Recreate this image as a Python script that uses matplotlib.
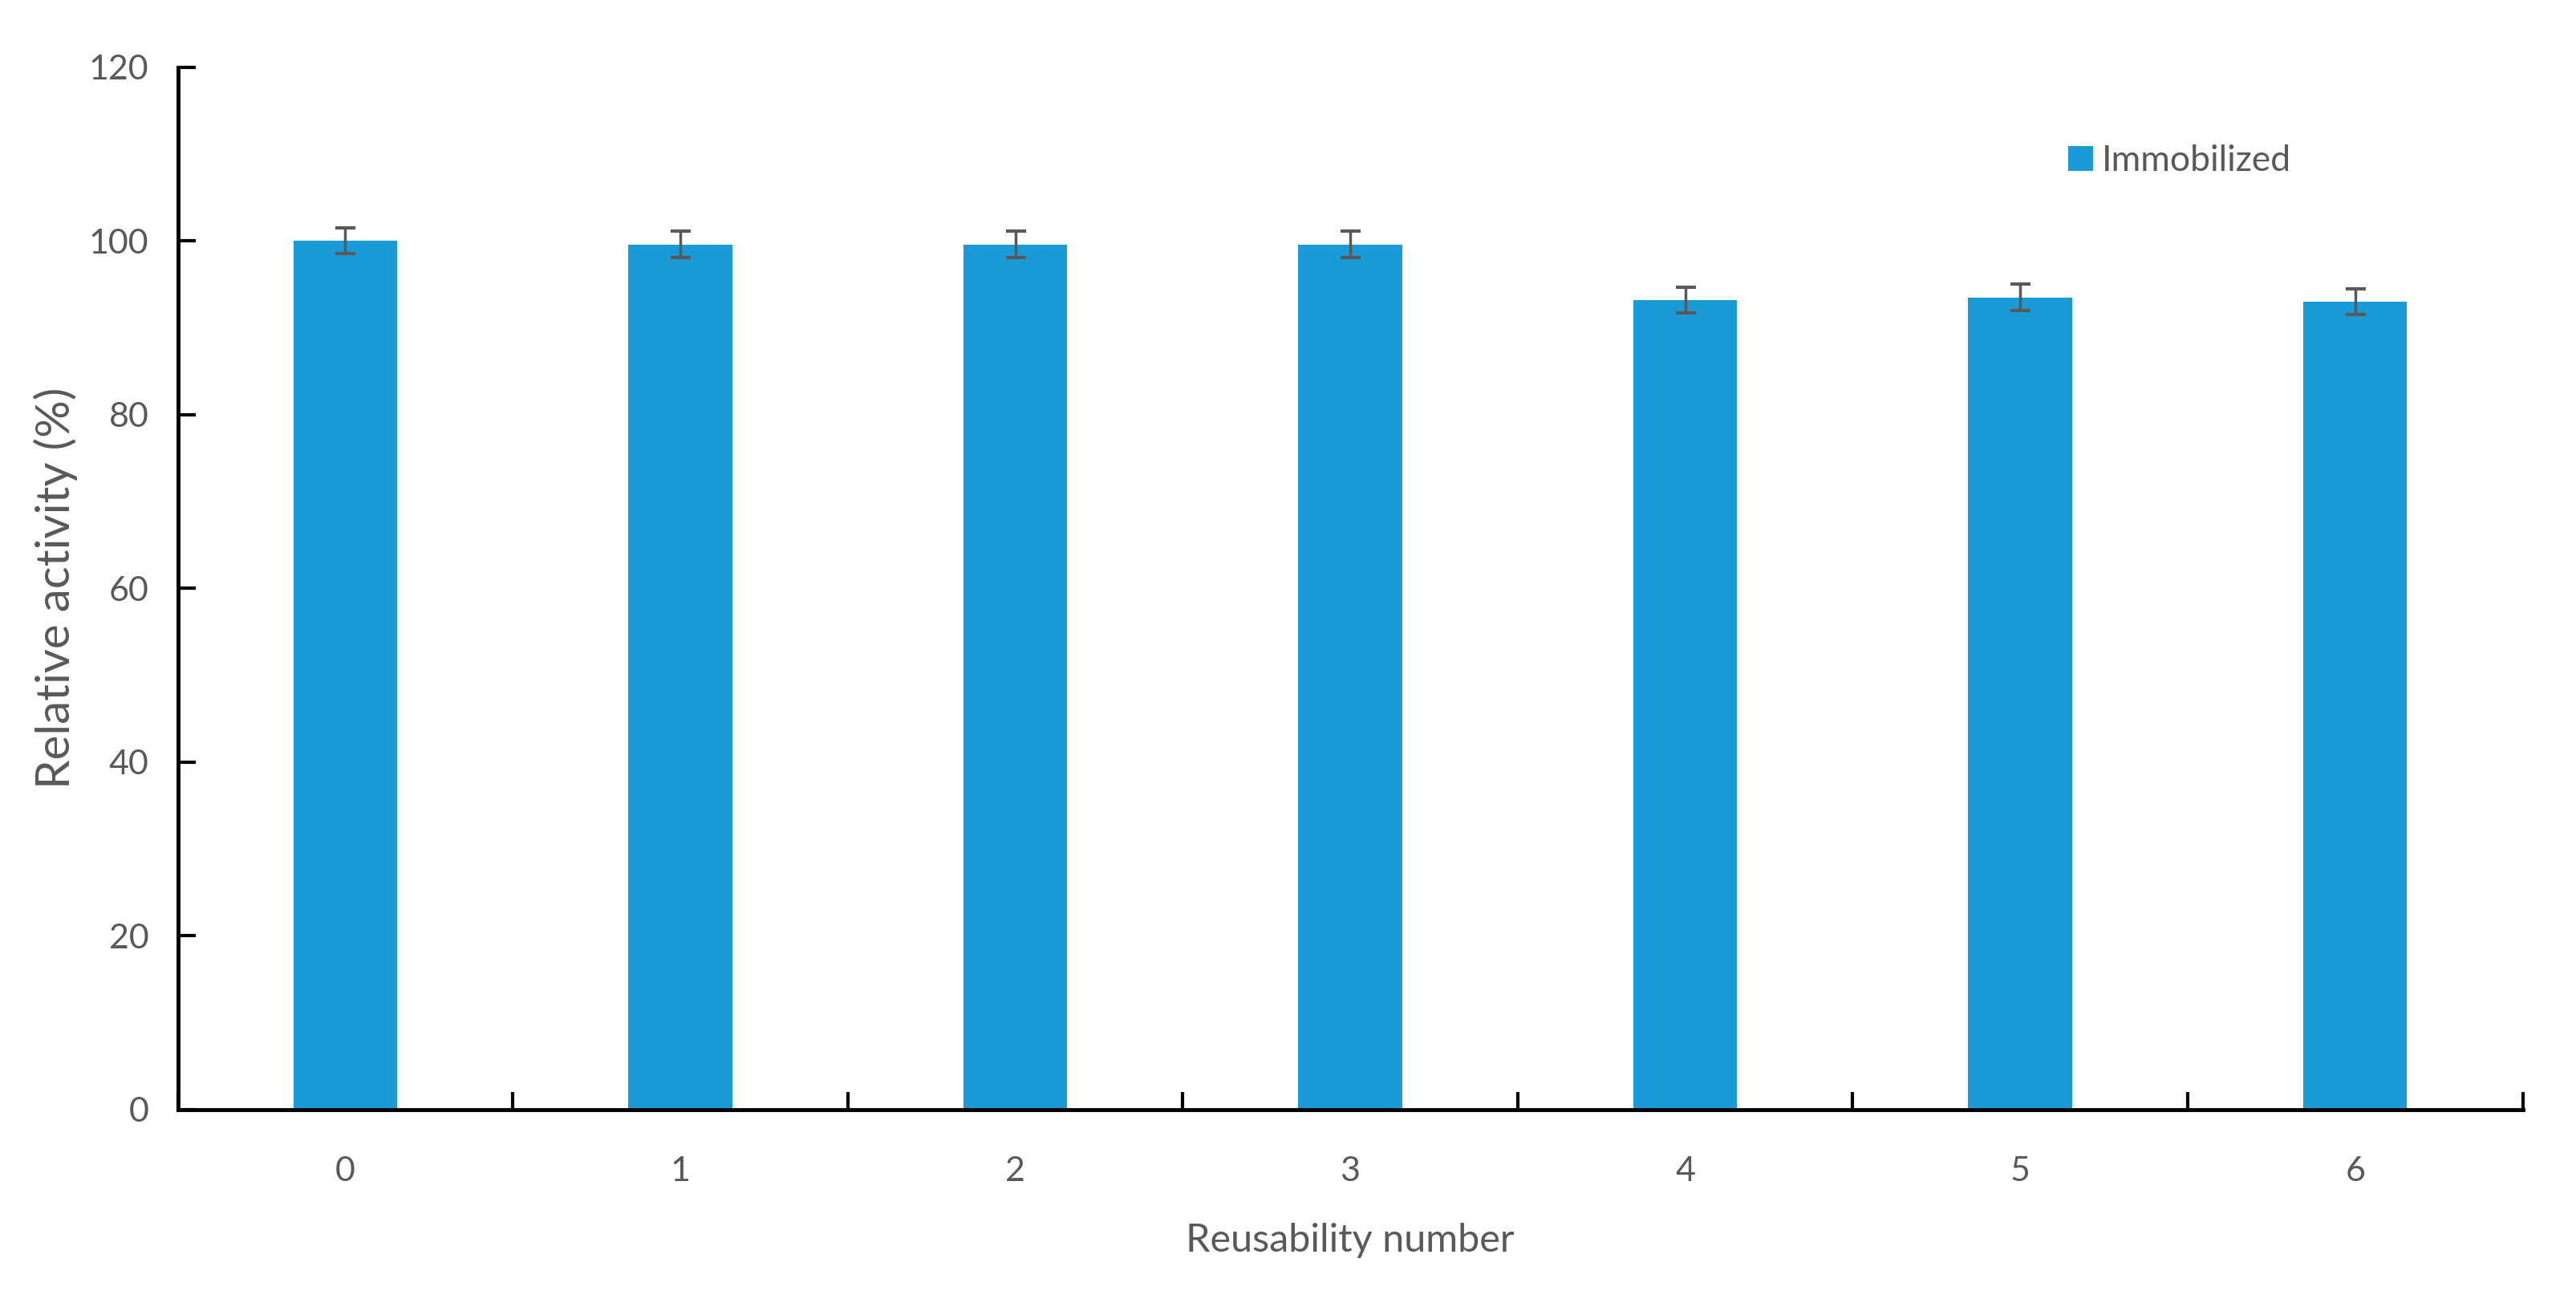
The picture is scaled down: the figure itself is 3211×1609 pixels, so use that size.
import matplotlib
matplotlib.use("Agg")
import matplotlib.pyplot as plt
import numpy as np

categories = ["0", "1", "2", "3", "4", "5", "6"]
values = [100.0, 99.6, 99.6, 99.6, 93.2, 93.5, 93.0]
errors = [1.5, 1.5, 1.5, 1.5, 1.5, 1.5, 1.5]
series_name = "Immobilized"
y_ticks = [0, 20, 40, 60, 80, 100, 120]

plt.rcParams['font.family'] = ['Lato', 'DejaVu Sans']
txt = '#595959'
fig = plt.figure(figsize=(32.12, 16.09), dpi=100)
ax = fig.add_axes([0.069, 0.1405, 0.91, 0.8075])

x = np.arange(len(categories))
ax.bar(x, values, width=0.31, color='#1A9BD7', label=series_name, zorder=2)
ax.errorbar(x, values, yerr=errors, fmt='none', ecolor='#595959', elinewidth=2.5,
            capsize=9, capthick=3, zorder=3)

ax.set_xlim(-0.5, len(categories) - 0.5)
ax.set_ylim(0, 120)
ax.set_yticks(y_ticks)
ax.set_yticklabels([str(t) for t in y_ticks])
ax.set_xticks(x)
ax.set_xticklabels(categories)
ax.set_xticks(np.arange(-0.5, len(categories), 1.0), minor=True)
ax.tick_params(axis='x', which='major', length=0, pad=42, labelsize=31, labelcolor=txt)
ax.tick_params(axis='x', which='minor', direction='in', length=16, width=3, color='black')
ax.tick_params(axis='y', direction='in', length=16, width=3, pad=26, labelsize=31, labelcolor=txt)

for s in ['top', 'right']:
    ax.spines[s].set_visible(False)
for s in ['left', 'bottom']:
    ax.spines[s].set_linewidth(3.5)
    ax.spines[s].set_color('black')

ax.set_xlabel("Reusability number", fontsize=35, color=txt, labelpad=32)
ax.set_ylabel("Relative activity (%)", fontsize=42, color=txt, labelpad=10)

leg = ax.legend(loc='center left', bbox_to_anchor=(0.806, 0.91), frameon=False,
                fontsize=32, handlelength=0.7, handleheight=0.7, handletextpad=0.25,
                labelcolor=txt, borderpad=0, borderaxespad=0)

fig.savefig("out.png", dpi=100, facecolor='white')
